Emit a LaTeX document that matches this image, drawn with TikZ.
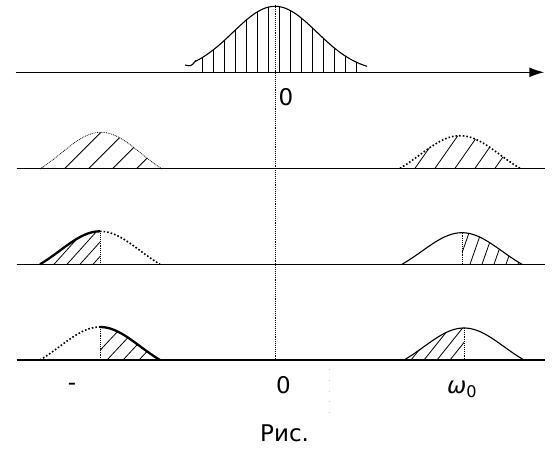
\documentclass[tikz,border=0pt]{standalone}
\usepackage{fontspec}
\setmainfont{DejaVu Sans}
\usetikzlibrary{arrows.meta}

\begin{document}
\begin{tikzpicture}[x=1pt,y=-1pt,
    axis/.style={line width=1.5pt},
    curve/.style={line width=1.1pt},
    bold/.style={line width=2.3pt},
    dots/.style={line width=1.6pt,dotted},
    fdots/.style={line width=0.8pt,densely dotted},
    hatch/.style={line width=0.8pt},
    vdots/.style={line width=0.9pt,densely dotted},
    lbl/.style={font=\fontsize{23}{26}\selectfont,inner sep=0pt},
    declare function={bell(\t)=(exp(-(\t)*(\t)/3200)-0.3247)/0.6753;
                      gauss(\t)=exp(-(\t)*(\t)/3528);}
  ]
  \useasboundingbox (0,0) rectangle (558,457);
  % Spectrum of the signal
  \coordinate (a0w) at (15.7,72.3);
  \coordinate (a0e) at (544.3,72.3);
  \draw[axis,-{Latex[length=15pt,width=10pt]}] (a0w) -- (a0e);
  \begin{scope}
    \clip plot[domain=-80:92,samples=60] ({275+\x},{72.3-66*gauss(\x)}) -- (367,72.3) -- (195,72.3) -- cycle;
    \foreach \x in {202,213,...,359} \draw[hatch] (\x,72.3) -- ++(0,-70);
  \end{scope}
  \draw[curve] (185,65) .. controls (190,66.5) and (192,66) .. (195,61.5)
    -- plot[domain=-80:92,samples=60] ({275+\x},{72.3-66*gauss(\x)});
  % Lower axes
  \foreach \r/\y in {1/168.3,2/264.3,3/360} {
    \coordinate (a\r w) at (16.7,\y);
    \coordinate (a\r e) at (545,\y);
    \draw[axis] (a\r w) -- (a\r e);
  }
  % Row 1
  \begin{scope}
    \clip plot[domain=-61:61,samples=40] ({101+\x},{168.3-36*bell(\x)}) -- cycle;
    \foreach \s in {41,65,...,137} \draw[hatch] (\s,168.3) -- ++(60,-60);
  \end{scope}
  \draw[fdots] plot[domain=-61:61,samples=40] ({101+\x},{168.3-36*bell(\x)});
  \begin{scope}
    \clip plot[domain=-60:60,samples=40] ({460+\x},{168.3-32.6*bell(\x)}) -- cycle;
    \foreach \s in {415,435,...,495} \draw[hatch] (\s,168.3) -- ++(42,-60);
  \end{scope}
  \draw[dots] plot[domain=-60:60,samples=40] ({460+\x},{168.3-32.6*bell(\x)});
  % Row 2
  \coordinate (p2l) at (100,231.3);
  \coordinate (b2l) at (100,264.3);
  \begin{scope}
    \clip plot[domain=-60:0,samples=20] ({100+\x},{264.3-33*bell(\x)}) -- (b2l) -- cycle;
    \foreach \s in {41,54,...,93} \draw[hatch] (\s,264.3) -- ++(54,-60);
  \end{scope}
  \draw[bold] plot[domain=-60:0,samples=20] ({100+\x},{264.3-33*bell(\x)});
  \draw[dots] plot[domain=0:60,samples=20] ({100+\x},{264.3-33*bell(\x)});
  \draw[vdots] (p2l) -- (b2l);
  \coordinate (p2r) at (462,232.7);
  \coordinate (b2r) at (462,264.3);
  \begin{scope}
    \clip (b2r) -- plot[domain=0:60,samples=20] ({462+\x},{264.3-31.6*bell(\x)}) -- cycle;
    \foreach \s in {458,470,...,518} \draw[hatch] (\s,264.3) -- ++(21,-60);
  \end{scope}
  \draw[curve] plot[domain=-60:60,samples=40] ({462+\x},{264.3-31.6*bell(\x)});
  \draw[vdots] (p2r) -- (b2r);
  % Row 3
  \coordinate (p3l) at (100,327);
  \coordinate (b3l) at (100,360);
  \begin{scope}
    \clip (b3l) -- plot[domain=0:60,samples=20] ({100+\x},{360-33*bell(\x)}) -- cycle;
    \foreach \s in {91,107,...,139} \draw[hatch] (\s,360) -- ++(56,-60);
  \end{scope}
  \draw[dots] plot[domain=-60:0,samples=20] ({100+\x},{360-33*bell(\x)});
  \draw[bold] plot[domain=0:60,samples=20] ({100+\x},{360-33*bell(\x)});
  \draw[vdots] (p3l) -- (b3l);
  \coordinate (p3r) at (464,328);
  \coordinate (b3r) at (464,360);
  \begin{scope}
    \clip plot[domain=-60:0,samples=20] ({464+\x},{360-32*bell(\x)}) -- (b3r) -- cycle;
    \foreach \s in {411,424,...,450} \draw[hatch] (\s,360) -- ++(48,-60);
  \end{scope}
  \draw[curve] plot[domain=-60:60,samples=40] ({464+\x},{360-32*bell(\x)});
  \draw[vdots] (p3r) -- (b3r);
  % Centre line
  \coordinate (ctop) at (275,5);
  \coordinate (cbot) at (275,360);
  \draw[vdots] (ctop) -- (cbot);
  \coordinate (f1) at (329,369);
  \coordinate (f2) at (329,414);
  \draw[gray!40,line width=0.8pt,dash pattern=on 0.8pt off 10pt] (f1) -- (f2);
  % Labels
  \node[lbl,anchor=base] (z0) at (286,106) {0};
  \node[lbl,anchor=base] (zb) at (283.5,394) {0};
  \node[lbl] (mw) at (72,387) {-};
  \node[lbl,anchor=base] (w0) at (462,394) {\itshape ω\textsubscript{\upshape 0}};
  \node[lbl,anchor=base west] (cap) at (260,442) {Рис.};
\end{tikzpicture}
\end{document}
